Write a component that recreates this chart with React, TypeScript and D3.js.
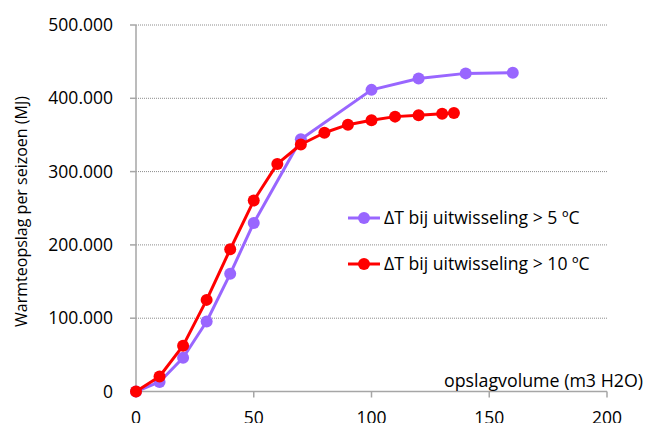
import React from "react";
import * as d3 from "d3";

const xTicks = [0, 50, 100, 150, 200];
const yTicks = [0, 100000, 200000, 300000, 400000, 500000];

const purpleX = [0, 10, 20, 30, 40, 50, 70, 100, 120, 140, 160];
const purpleY = [0, 13000, 46000, 95500, 160500, 230000, 344000, 411500, 427000, 434000, 435000];

const redX = [0, 10, 20, 30, 40, 50, 60, 70, 80, 90, 100, 110, 120, 130, 135];
const redY = [0, 20500, 62500, 125000, 194000, 260500, 310500, 337000, 353000, 364000, 370000, 375000, 377000, 379000, 379800];

const seriesNames = ["ΔT bij uitwisseling > 5 ºC", "ΔT bij uitwisseling > 10 ºC"];
const seriesColors = ["#9966FF", "#FF0000"];

const W = 648, H = 423;
const FONT = "'Open Sans', sans-serif";

export default function App() {
  const x = d3.scaleLinear().domain([0, 200]).range([136, 607]);
  const y = d3.scaleLinear().domain([0, 500000]).range([391.5, 25]);
  const fmt = (v: number) => (v === 0 ? "0" : d3.format(",")(v).replace(/,/g, "."));
  const series = [
    { xs: purpleX, ys: purpleY, color: seriesColors[0], name: seriesNames[0] },
    { xs: redX, ys: redY, color: seriesColors[1], name: seriesNames[1] },
  ];
  const line = d3
    .line<[number, number]>()
    .x((d) => x(d[0]))
    .y((d) => y(d[1]));

  return (
    <svg width={W} height={H} style={{ position: "absolute", left: 0, top: 0, background: "#fff" }}>
      {yTicks.slice(1).map((t) => (
        <line key={"g" + t} x1={x(0)} x2={x(200)} y1={y(t)} y2={y(t)} stroke="#8c8c8c" strokeWidth={1} strokeDasharray="1,1" />
      ))}
      <line x1={x(0)} x2={x(0)} y1={y(0)} y2={y(500000)} stroke="#a6a6a6" strokeWidth={1.5} />
      <line x1={x(0)} x2={x(200)} y1={y(0)} y2={y(0)} stroke="#a6a6a6" strokeWidth={1.5} />
      {yTicks.map((t) => (
        <g key={"yt" + t}>
          <line x1={x(0) - 6} x2={x(0)} y1={y(t)} y2={y(t)} stroke="#a6a6a6" strokeWidth={1.5} />
          <text x={113} y={y(t)} dy="0.35em" textAnchor="end" fontFamily={FONT} fontSize={17.5} fill="#000">
            {fmt(t)}
          </text>
        </g>
      ))}
      {xTicks.map((t) => (
        <g key={"xt" + t}>
          <line x1={x(t)} x2={x(t)} y1={y(0)} y2={y(0) + 6} stroke="#a6a6a6" strokeWidth={1.5} />
          <text x={x(t)} y={424} textAnchor="middle" fontFamily={FONT} fontSize={17.5} fill="#000">
            {t}
          </text>
        </g>
      ))}
      <text
        transform={`translate(27,211.5) rotate(-90)`}
        textAnchor="middle"
        fontFamily={FONT}
        fontSize={16}
        fill="#000"
      >
        Warmteopslag per seizoen (MJ)
      </text>
      <text x={643} y={386.5} textAnchor="end" fontFamily={FONT} fontSize={17.8} fill="#000">
        opslagvolume (m3 H2O)
      </text>
      {series.map((s, i) => {
        const pts = s.xs.map((v, j) => [v, s.ys[j]] as [number, number]);
        return (
          <g key={"s" + i}>
            <path d={line(pts) || ""} fill="none" stroke={s.color} strokeWidth={3} strokeLinejoin="round" />
            {pts.map((p, j) => (
              <circle key={j} cx={x(p[0])} cy={y(p[1])} r={6} fill={s.color} />
            ))}
          </g>
        );
      })}
      {series.map((s, i) => {
        const ly = 218 + i * 46;
        return (
          <g key={"l" + i}>
            <line x1={348} x2={380} y1={ly} y2={ly} stroke={s.color} strokeWidth={3} />
            <circle cx={364} cy={ly} r={6} fill={s.color} />
            <text x={384} y={ly} dy="0.35em" fontFamily={FONT} fontSize={17.6} fill="#000">
              {s.name}
            </text>
          </g>
        );
      })}
    </svg>
  );
}
